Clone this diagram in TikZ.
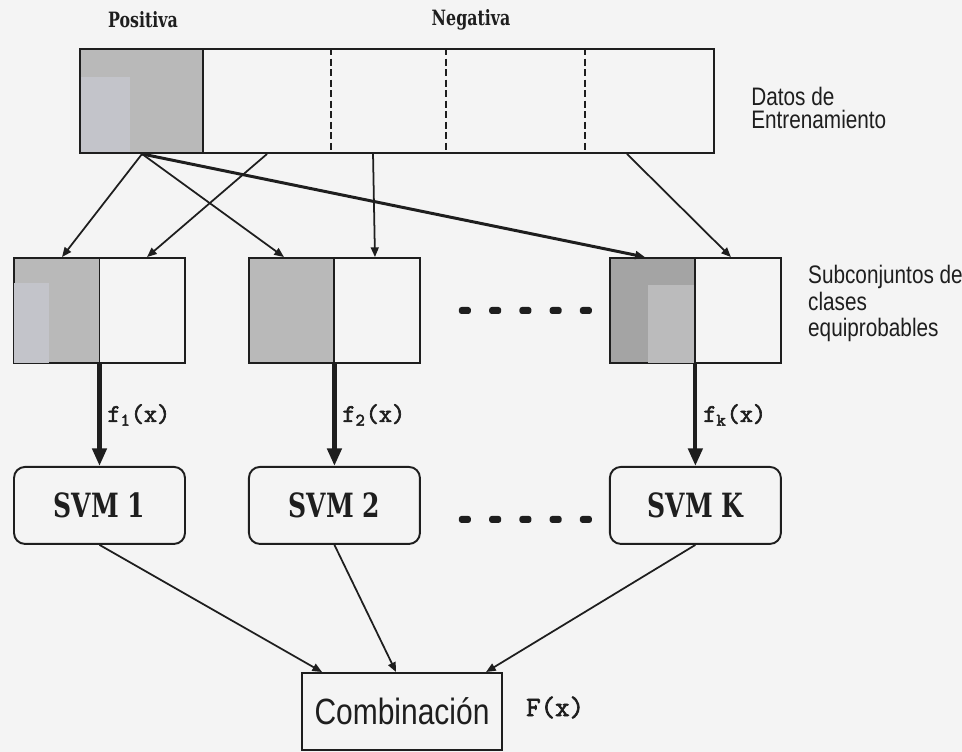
\documentclass[tikz,border=0pt]{standalone}
\usepackage{fontspec}
\usepackage{xcolor}
\usetikzlibrary{positioning,calc,arrows.meta}
\newfontfamily\narrowsans{Liberation Sans}[FakeStretch=0.82]
\newfontfamily\svmfont{DejaVu Serif}[FakeStretch=0.75]
\newfontfamily\fxfont{Latin Modern Mono}[FakeBold=2.5]
\definecolor{paper}{HTML}{F4F4F4}
\definecolor{ink}{HTML}{1E1E1E}
\definecolor{halfgray}{HTML}{B9B9B9}
\definecolor{darkhalf}{HTML}{A4A4A4}
\definecolor{patch}{HTML}{C3C4CA}

\begin{document}
\begin{tikzpicture}[x=0.2mm, y=-0.2mm, color=ink,
    halfbox/.style={draw, line width=1.1pt, minimum width=34.2mm, minimum height=21mm, inner sep=0,
        path picture={\fill[#1] (path picture bounding box.north west) rectangle (path picture bounding box.south);
                      \draw[line width=1.1pt] (path picture bounding box.north) -- (path picture bounding box.south);}},
    svm/.style={draw, line width=1.1pt, rounded corners=2.2mm, minimum width=34.2mm, minimum height=15.4mm,
        font=\svmfont\bfseries\fontsize{19}{20}\selectfont},
    sidelbl/.style={align=left, inner sep=0, anchor=west},
    fxlbl/.style={font=\fxfont\fontsize{14.5}{16}\selectfont},
    arr/.style={-{Triangle[length=5.5pt,width=4.5pt]}, line width=1pt},
    thickarr/.style={-{Triangle[length=10pt,width=8pt]}, line width=2.4pt}]
                \path[use as bounding box, fill=paper] (0,0) rectangle (962,752);
%datos
                \node[draw, line width=1.1pt, minimum width=126.8mm, minimum height=20.8mm, inner sep=0,
                      path picture={\fill[halfgray] (path picture bounding box.north west) rectangle ++(124,104);
                                    \fill[patch] ($(path picture bounding box.south west)+(0,-76)$) rectangle ++(50,76);}]
                      (datos) at (397,101) {};
                \draw[line width=1.1pt] ($(datos.north west)+(124,0)$) -- ($(datos.south west)+(124,0)$);
                \foreach \dx in {252,367,506}
                  \draw[dashed, dash pattern=on 4pt off 2pt, line width=0.8pt] ($(datos.north west)+(\dx,0)$) -- ($(datos.south west)+(\dx,0)$);
                \node[font=\svmfont\bfseries\fontsize{12}{14}\selectfont] (pos) at ($(datos.north west)+(64,-28)$) {Positiva};
                \node[font=\svmfont\bfseries\fontsize{12}{14}\selectfont] (neg) at ($(datos.north west)+(392,-28)$) {Negativa};
                \node[sidelbl, font=\narrowsans\fontsize{14.4}{13}\selectfont] (datoslbl) at ($(datos.east)+(36,7)$) {Datos de\\Entrenamiento};
%subconjuntos
                \node[halfbox=halfgray] (sub1) at (99.5,310.5) {};
                \node[halfbox=halfgray, right=12.4mm of sub1] (sub2) {};
                \node[halfbox=darkhalf, right=37.6mm of sub2] (subK) {};
                \fill[patch] ($(sub1.south west)+(1,-1)$) rectangle ++(35,-80);
                \fill[halfgray!80!patch] ($(subK.south west)+(39,-1)$) rectangle ++(46,-78);
                \node[sidelbl, font=\narrowsans\fontsize{14.4}{15}\selectfont] (sublbl) at ($(subK.east)+(26,-7)$) {Subconjuntos de\\clases\\equiprobables};
                \foreach \i in {0,...,4}
                  \fill[rounded corners=1.5pt] ($(sub2.east)+(38+30.25*\i,-3.5)$) rectangle ++(12,7);
                \draw[arr] ($(datos.south west)+(63,0)$) -- ($(sub1.north west)+(49,0)$);
                \draw[arr] ($(datos.south west)+(188,0)$) -- ($(sub1.north west)+(134,0)$);
                \draw[arr] ($(datos.south west)+(63,0)$) -- ($(sub2.north west)+(36,0)$);
                \draw[arr, line width=1.7pt] ($(datos.south west)+(63,0)$) -- ($(subK.north west)+(36,0)$);
                \draw[arr] ($(datos.south west)+(294,0)$) -- ($(sub2.north west)+(127,0)$);
                \draw[arr] ($(datos.south west)+(548,0)$) -- ($(subK.north west)+(122,0)$);
%svm
                \node[svm, below=20.4mm of sub1] (svm1) {SVM 1};
                \node[svm, below=20.4mm of sub2] (svm2) {SVM 2};
                \node[svm, below=20.4mm of subK] (svmK) {SVM K};
                \foreach \i in {0,...,4}
                  \fill[rounded corners=1.5pt] ($(svm2.east)+(38+30.25*\i,10.5)$) rectangle ++(12,7);
                \draw[thickarr] (sub1.south) -- node[right, fxlbl] (f1) {f\textsubscript{1}(x)} (svm1.north);
                \draw[thickarr] (sub2.south) -- node[right, fxlbl] (f2) {f\textsubscript{2}(x)} (svm2.north);
                \draw[thickarr] (subK.south) -- node[right, fxlbl] (fk) {f\textsubscript{k}(x)} (svmK.north);
%combinacion
                \node[draw, line width=1.1pt, minimum width=40mm, minimum height=15.4mm,
                      font=\narrowsans\fontsize{20.8}{22}\selectfont] (comb) at (402,711.5) {Combinación};
                \node[right=3.4mm of comb, yshift=0.8mm, font=\fxfont\fontsize{16}{18}\selectfont] (Fx) {F(x)};
                \draw[arr] (svm1.south) -- ($(comb.north west)+(21,0)$);
                \draw[arr] (svm2.south) -- ($(comb.north west)+(95,0)$);
                \draw[arr] (svmK.south) -- ($(comb.north west)+(185,0)$);
\end{tikzpicture}
\end{document}
